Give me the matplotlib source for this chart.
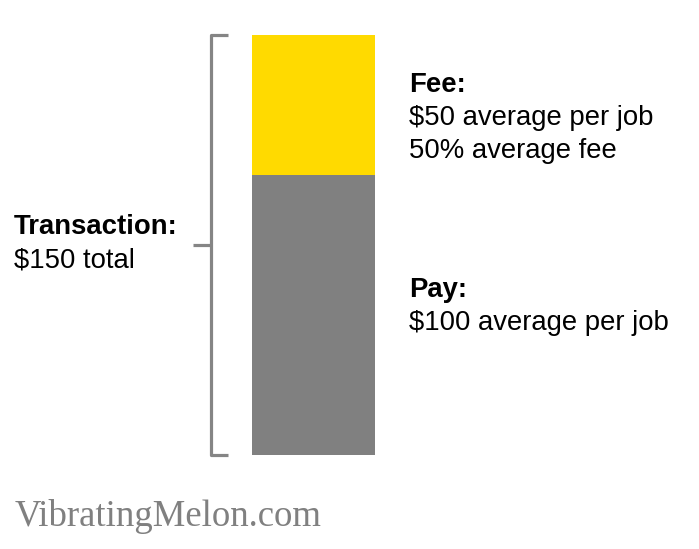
import matplotlib
matplotlib.use("Agg")
import matplotlib.pyplot as plt
from matplotlib.transforms import blended_transform_factory

# data
parts = ["Pay", "Fee"]
values = [100, 50]
colors = ["#808080", "#FFDA00"]
total = sum(values)

W, H = 699, 549
fig = plt.figure(figsize=(W / 100, H / 100), dpi=100)
plt.rcParams["font.family"] = ["Liberation Sans", "DejaVu Sans"]

def fx(x):
    return x / W

def fy(y):
    # y measured in pixels from the top of the image
    return 1 - y / H

# bar axes: bar spans x 252..375, y 35..455 px
ax = fig.add_axes([fx(252), fy(455), fx(375) - fx(252), fy(35) - fy(455)])
bottom = 0
for name, v, c in zip(parts, values, colors):
    ax.bar(0, v, width=1.0, bottom=bottom, color=c, linewidth=0)
    bottom += v
ax.set_xlim(-0.5, 0.5)
ax.set_ylim(0, total)
ax.axis("off")

# bracket on the left, spanning the full transaction
tr = blended_transform_factory(fig.transFigure, ax.transData)
bk = dict(color="#858585", lw=2.3, solid_capstyle="butt", solid_joinstyle="round",
          transform=tr, clip_on=False)
ax.plot([fx(228), fx(211), fx(211), fx(228)], [total, total, 0, 0], **bk)
ax.plot([fx(211), fx(193)], [total / 2, total / 2], **bk)

fs = 19.8
fig.text(fx(409), fy(92), "Fee:", fontsize=fs, fontweight="bold", va="baseline")
fig.text(fx(409), fy(125), "$%d average per job" % values[1], fontsize=fs, va="baseline")
fig.text(fx(409), fy(158), "%d%% average fee" % round(100 * values[1] / values[0]),
         fontsize=fs, va="baseline")
fig.text(fx(409), fy(297), "Pay:", fontsize=fs, fontweight="bold", va="baseline")
fig.text(fx(409), fy(330), "$%d average per job" % values[0], fontsize=fs, va="baseline")
fig.text(fx(14), fy(234), "Transaction:", fontsize=fs, fontweight="bold", va="baseline")
fig.text(fx(14), fy(268), "$%d total" % total, fontsize=fs, va="baseline")

fig.text(fx(15), fy(526), "VibratingMelon.com", fontsize=26.5, color="#808080",
         family="Liberation Serif", va="baseline")

fig.savefig("out.png", dpi=100)
